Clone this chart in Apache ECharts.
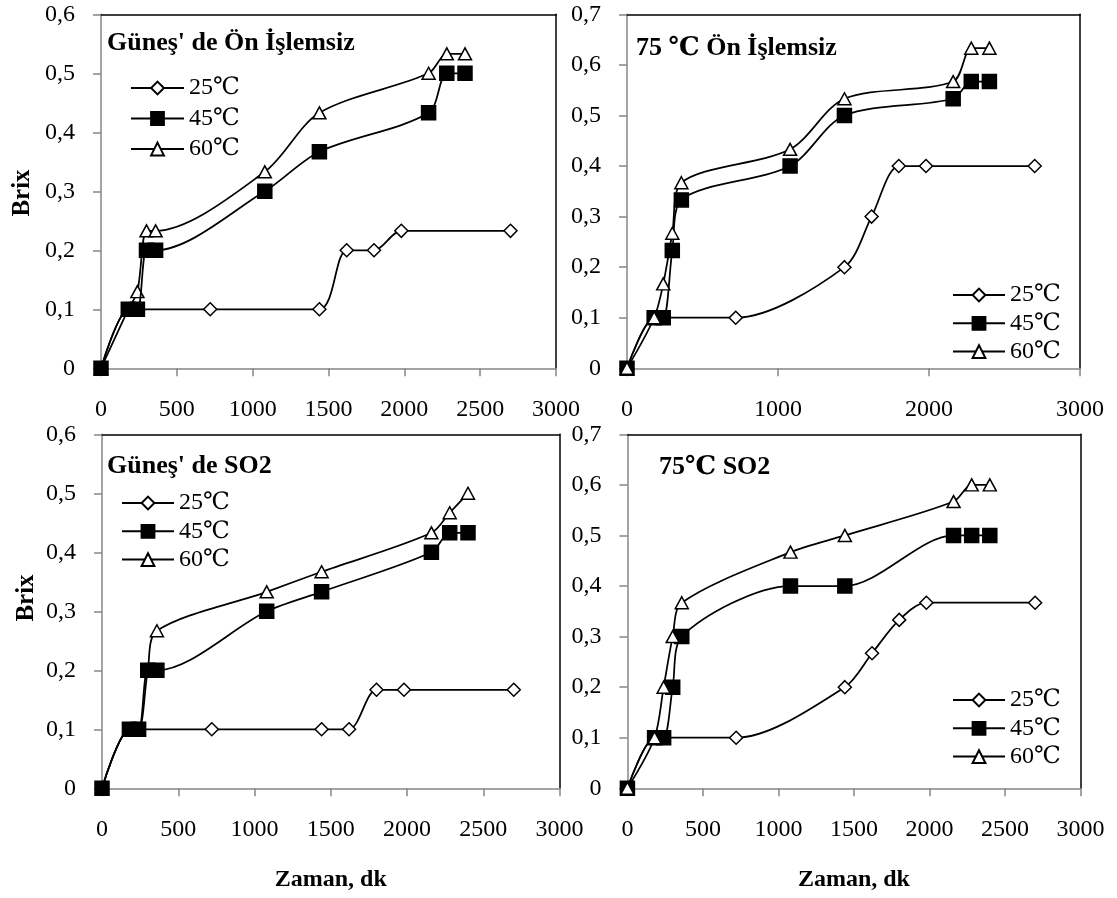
<!DOCTYPE html>
<html><head><meta charset="utf-8">
<script src="https://cdn.jsdelivr.net/npm/echarts@6/dist/echarts.min.js"></script>
<style>html,body{margin:0;padding:0;background:#fff}#c{width:1117px;height:898px}</style>
</head><body><div id="c"></div>
<script>
// ---- data ----
const timeMain = [0, 180, 240, 300, 360, 1080, 1440, 2160, 2280, 2400];
const time25 = [0, 180, 240, 720, 1440, 1620, 1800, 1980, 2700];
const seriesNames = ['25℃', '45℃', '60℃'];
const panelTitles = ["Güneş' de Ön İşlemsiz", "75 ℃ Ön İşlemsiz", "Güneş' de SO2", "75℃ SO2"];
const yAxisTitle = 'Brix';
const xAxisTitle = 'Zaman, dk';
const yMax = [0.6, 0.7, 0.6, 0.7];
const xInterval = [500, 1000, 500, 500];

// Panel 1: Güneş' de Ön İşlemsiz
const p1_25 = [0, 0.1, 0.1, 0.1, 0.1, 0.2, 0.2, 0.233, 0.233];
const p1_45 = [0, 0.1, 0.1, 0.2, 0.2, 0.3, 0.367, 0.433, 0.5, 0.5];
const p1_60 = [0, 0.1, 0.13, 0.233, 0.233, 0.333, 0.433, 0.5, 0.533, 0.533];
// Panel 2: 75 ℃ Ön İşlemsiz
const p2_25 = [0, 0.1, 0.1, 0.1, 0.2, 0.3, 0.4, 0.4, 0.4];
const p2_45 = [0, 0.1, 0.1, 0.233, 0.333, 0.4, 0.5, 0.533, 0.567, 0.567];
const p2_60 = [0, 0.1, 0.167, 0.267, 0.367, 0.433, 0.533, 0.567, 0.633, 0.633];
// Panel 3: Güneş' de SO2
const p3_25 = [0, 0.1, 0.1, 0.1, 0.1, 0.1, 0.167, 0.167, 0.167];
const p3_45 = [0, 0.1, 0.1, 0.2, 0.2, 0.3, 0.333, 0.4, 0.433, 0.433];
const p3_60 = [0, 0.1, 0.1, 0.2, 0.267, 0.333, 0.367, 0.433, 0.467, 0.5];
// Panel 4: 75℃ SO2
const p4_25 = [0, 0.1, 0.1, 0.1, 0.2, 0.267, 0.333, 0.367, 0.367];
const p4_45 = [0, 0.1, 0.1, 0.2, 0.3, 0.4, 0.4, 0.5, 0.5, 0.5];
const p4_60 = [0, 0.1, 0.2, 0.3, 0.367, 0.467, 0.5, 0.567, 0.6, 0.6];

const panelData = [[p1_25, p1_45, p1_60], [p2_25, p2_45, p2_60], [p3_25, p3_45, p3_60], [p4_25, p4_45, p4_60]];

// ---- layout / style ----
const FONT = "'Liberation Serif','DejaVu Serif',serif";
const grids = [
  {left: 101, top: 14.3, width: 455, height: 354},
  {left: 627, top: 14.3, width: 453, height: 354},
  {left: 102, top: 434.3, width: 457.5, height: 354},
  {left: 627.4, top: 434.3, width: 453, height: 354}
];
const titlePos = [[107, 30], [636, 35], [107, 453], [659, 454]];
const legendPos = [
  {left: 130, top: 76, itemGap: 6.5, itemWidth: 53},
  {left: 952, top: 283, itemGap: 4.3, itemWidth: 52},
  {left: 121, top: 491, itemGap: 4.3, itemWidth: 52},
  {left: 952, top: 688, itemGap: 4.3, itemWidth: 52}
];
const gray = '#868686';
const symbolDefs = [
  {symbol: 'diamond', size: 13, fill: '#fff'},
  {symbol: 'rect', size: 14, fill: '#000'},
  {symbol: 'triangle', size: [13, 12], fill: '#fff'}
];
// drawing order per panel (later drawn on top)
const zOrder = [[1, 3, 2], [1, 2, 3], [1, 3, 2], [1, 2, 3]];

const xAxes = [], yAxes = [], series = [], titles = [], legends = [];
const fmtY = v => v === 0 ? '0' : v.toFixed(1).replace('.', ',');
const fmtX = v => String(Math.round(v));

grids.forEach((g, i) => {
  xAxes.push({
    gridIndex: i, type: 'value', min: 0, max: 3000, interval: xInterval[i],
    axisLine: {show: true, lineStyle: {color: gray, width: 1.5}},
    axisTick: {show: true, inside: false, length: 8, lineStyle: {color: gray, width: 1.5}},
    splitLine: {show: false},
    axisLabel: {margin: 29, color: '#000', fontFamily: FONT, fontSize: 24, formatter: fmtX},
    name: i >= 2 ? xAxisTitle : '', nameLocation: 'middle', nameGap: 79,
    nameTextStyle: {fontFamily: FONT, fontSize: 24, fontWeight: 'bold', color: '#000'}
  });
  yAxes.push({
    gridIndex: i, type: 'value', min: 0, max: yMax[i], interval: 0.1,
    axisLine: {show: true, lineStyle: {color: gray, width: 1.5}},
    axisTick: {show: true, inside: false, length: 8, lineStyle: {color: gray, width: 1.5}},
    splitLine: {show: false},
    axisLabel: {margin: 26, color: '#000', fontFamily: FONT, fontSize: 24, formatter: fmtY}
  });
  titles.push({
    text: panelTitles[i], left: titlePos[i][0], top: titlePos[i][1], padding: 0,
    textStyle: {fontFamily: FONT, fontSize: 26, fontWeight: 'bold', color: '#000'}
  });
  legends.push({
    orient: 'vertical', left: legendPos[i].left, top: legendPos[i].top, padding: 0,
    itemGap: legendPos[i].itemGap, itemWidth: legendPos[i].itemWidth, itemHeight: 16,
    selectedMode: false, data: seriesNames,
    textStyle: {fontFamily: FONT, fontSize: 24, color: '#000'}
  });
  panelData[i].forEach((vals, k) => {
    const times = k === 0 ? time25 : timeMain;
    const sd = symbolDefs[k];
    series.push({
      name: seriesNames[k], type: 'line', xAxisIndex: i, yAxisIndex: i,
      data: vals.map((v, j) => [times[j], v]),
      smooth: 0.3, symbol: sd.symbol, symbolSize: sd.size, showSymbol: true,
      z: 2 + zOrder[i][k],
      lineStyle: {color: '#000', width: 1.75},
      itemStyle: {color: sd.fill, borderColor: '#000', borderWidth: 1.5},
      emphasis: {disabled: true}, animation: false
    });
  });
});
// black top and right frame lines
grids.forEach((g, i) => {
  xAxes.push({gridIndex: i, type: 'value', position: 'top', min: 0, max: 3000,
    axisLine: {show: true, onZero: false, lineStyle: {color: '#000', width: 1.5}},
    axisTick: {show: false}, axisLabel: {show: false}, splitLine: {show: false}});
  yAxes.push({gridIndex: i, type: 'value', position: 'right', min: 0, max: yMax[i],
    axisLine: {show: true, onZero: false, lineStyle: {color: '#000', width: 1.5}},
    axisTick: {show: false}, axisLabel: {show: false}, splitLine: {show: false}});
});

const brixPos = [[23, 193], [27, 598]];
const graphics = brixPos.map(p => ({
  type: 'text', x: p[0], y: p[1], rotation: Math.PI / 2,
  style: {text: yAxisTitle, font: 'bold 25px ' + FONT, fill: '#000', textAlign: 'center', textVerticalAlign: 'middle'}
}));

const chart = echarts.init(document.getElementById('c'), null, {renderer: 'canvas'});
chart.setOption({
  backgroundColor: '#fff', animation: false,
  grid: grids, xAxis: xAxes, yAxis: yAxes, series: series,
  title: titles, legend: legends, graphic: graphics, tooltip: {show: false}
});
</script></body></html>
